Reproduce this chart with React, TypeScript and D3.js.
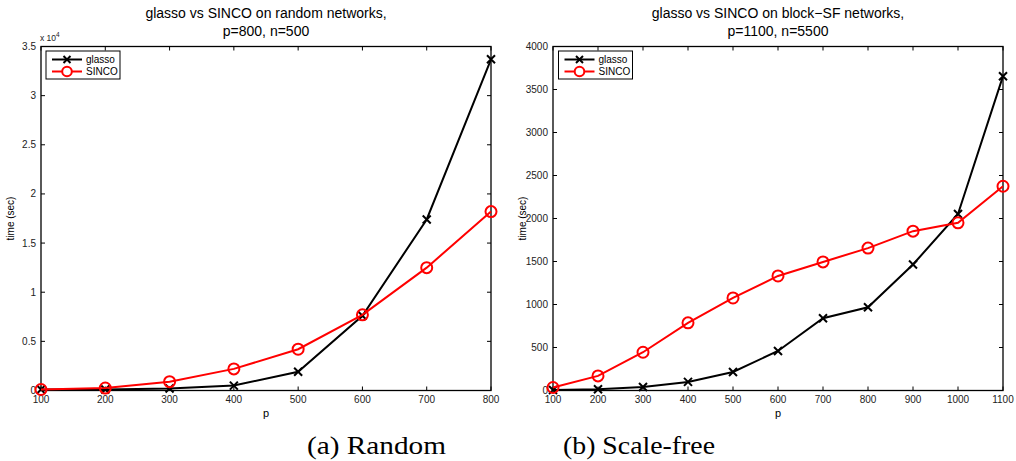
import React from "react";
import * as d3 from "d3";

const pRandom = [100, 200, 300, 400, 500, 600, 700, 800];
const glassoRandom = [0.01, 0.01, 0.02, 0.05, 0.19, 0.76, 1.74, 3.37];
const sincoRandom = [0.01, 0.025, 0.09, 0.22, 0.42, 0.77, 1.25, 1.82];
const yTicksRandom = [0, 0.5, 1, 1.5, 2, 2.5, 3, 3.5];

const pSF = [100, 200, 300, 400, 500, 600, 700, 800, 900, 1000, 1100];
const glassoSF = [5, 15, 40, 100, 215, 460, 840, 968, 1465, 2052, 3655];
const sincoSF = [35, 170, 445, 787, 1076, 1332, 1495, 1656, 1853, 1950, 2375];
const yTicksSF = [0, 500, 1000, 1500, 2000, 2500, 3000, 3500, 4000];

const titlesA = ["glasso vs SINCO on random networks,", "p=800, n=500"];
const titlesB = ["glasso vs SINCO on block\u2212SF networks,", "p=1100, n=5500"];
const seriesNames = ["glasso", "SINCO"];
const captions = ["(a) Random", "(b) Scale-free"];

const FONT = "'Liberation Sans', Arial, Helvetica, sans-serif";
const SERIF = "'Liberation Serif', 'DejaVu Serif', serif";

type PanelProps = {
  x0: number; x1: number; y0: number; y1: number;
  xs: number[]; ys: number[][]; yMax: number; yTicks: number[];
  titles: string[]; exponent?: boolean; legendX: number;
};

function Panel(props: PanelProps) {
  const { x0, x1, y0, y1, xs, ys, yMax, yTicks, titles, exponent, legendX } = props;
  const x = d3.scaleLinear().domain([xs[0], xs[xs.length - 1]]).range([x0, x1]);
  const y = d3.scaleLinear().domain([0, yMax]).range([y1, y0]);
  const line = d3.line<number>().x((_, i) => x(xs[i])).y((d) => y(d));
  const colors = ["#000000", "#ff0000"];
  const tl = 4;
  const cx = (x0 + x1) / 2;
  return (
    <g>
      <text x={cx} y={18} textAnchor="middle" fontFamily={FONT} fontSize={14}>{titles[0]}</text>
      <text x={cx} y={35.5} textAnchor="middle" fontFamily={FONT} fontSize={14}>{titles[1]}</text>
      {exponent && (
        <text x={x0 - 1} y={41} fontFamily={FONT} fontSize={8.5} fill="#222">
          x 10<tspan dy={-4} fontSize={6.5}>4</tspan>
        </text>
      )}
      {xs.map((v) => (
        <g key={"xt" + v}>
          <line x1={x(v)} x2={x(v)} y1={y1} y2={y1 - tl} stroke="#000" strokeWidth={1} />
          <line x1={x(v)} x2={x(v)} y1={y0} y2={y0 + tl} stroke="#000" strokeWidth={1} />
          <text x={x(v)} y={403} textAnchor="middle" fontFamily={FONT} fontSize={10} fill="#222">{v}</text>
        </g>
      ))}
      {yTicks.map((v) => (
        <g key={"yt" + v}>
          <line x1={x0} x2={x0 + tl} y1={y(v)} y2={y(v)} stroke="#000" strokeWidth={1} />
          <line x1={x1} x2={x1 - tl} y1={y(v)} y2={y(v)} stroke="#000" strokeWidth={1} />
          <text x={x0 - 5} y={y(v) + 3.5} textAnchor="end" fontFamily={FONT} fontSize={10} fill="#222">{String(v)}</text>
        </g>
      ))}
      <rect x={x0} y={y0} width={x1 - x0} height={y1 - y0} fill="none" stroke="#000" strokeWidth={1.3} />
      <text x={cx} y={417} textAnchor="middle" fontFamily={FONT} fontSize={11}>p</text>
      <text transform={`translate(${x0 - 27},${(y0 + y1) / 2}) rotate(-90)`} textAnchor="middle" fontFamily={FONT} fontSize={10}>time (sec)</text>
      {ys.map((s, si) => (
        <g key={"s" + si}>
          <path d={line(s) || ""} fill="none" stroke={colors[si]} strokeWidth={2} />
          {s.map((v, i) =>
            si === 0 ? (
              <path key={i} d={`M${x(xs[i]) - 4},${y(v) - 4}L${x(xs[i]) + 4},${y(v) + 4}M${x(xs[i]) - 4},${y(v) + 4}L${x(xs[i]) + 4},${y(v) - 4}`} stroke={colors[si]} strokeWidth={2} fill="none" />
            ) : (
              <circle key={i} cx={x(xs[i])} cy={y(v)} r={5.5} stroke={colors[si]} strokeWidth={2} fill="none" />
            )
          )}
        </g>
      ))}
      <g>
        <rect x={legendX} y={51} width={74} height={28} fill="#fff" stroke="#000" strokeWidth={1} />
        {seriesNames.map((n, i) => {
          const ly = 59.5 + i * 12;
          const mx = legendX + 21;
          return (
            <g key={n}>
              <line x1={legendX + 6} x2={legendX + 36} y1={ly} y2={ly} stroke={colors[i]} strokeWidth={2} />
              {i === 0 ? (
                <path d={`M${mx - 3.5},${ly - 3.5}L${mx + 3.5},${ly + 3.5}M${mx - 3.5},${ly + 3.5}L${mx + 3.5},${ly - 3.5}`} stroke={colors[i]} strokeWidth={2} />
              ) : (
                <circle cx={mx} cy={ly} r={4.8} stroke={colors[i]} strokeWidth={2} fill="#fff" />
              )}
              <text x={legendX + 40} y={ly + 3.5} fontFamily={FONT} fontSize={10}>{n}</text>
            </g>
          );
        })}
      </g>
    </g>
  );
}

export default function App() {
  return (
    <svg width={1016} height={461} style={{ position: "absolute", left: 0, top: 0, background: "#fff" }}>
      <rect width={1016} height={461} fill="#fff" />
      <Panel x0={41} x1={491} y0={46.5} y1={390.5} xs={pRandom} ys={[glassoRandom, sincoRandom]} yMax={3.5} yTicks={yTicksRandom} titles={titlesA} exponent legendX={46} />
      <Panel x0={553} x1={1003} y0={46.5} y1={390.5} xs={pSF} ys={[glassoSF, sincoSF]} yMax={4000} yTicks={yTicksSF} titles={titlesB} legendX={558.5} />
      <text x={307} y={454} fontFamily={SERIF} fontSize={25} textLength={139} lengthAdjust="spacingAndGlyphs">{captions[0]}</text>
      <text x={563} y={454} fontFamily={SERIF} fontSize={25} textLength={152} lengthAdjust="spacingAndGlyphs">{captions[1]}</text>
    </svg>
  );
}
